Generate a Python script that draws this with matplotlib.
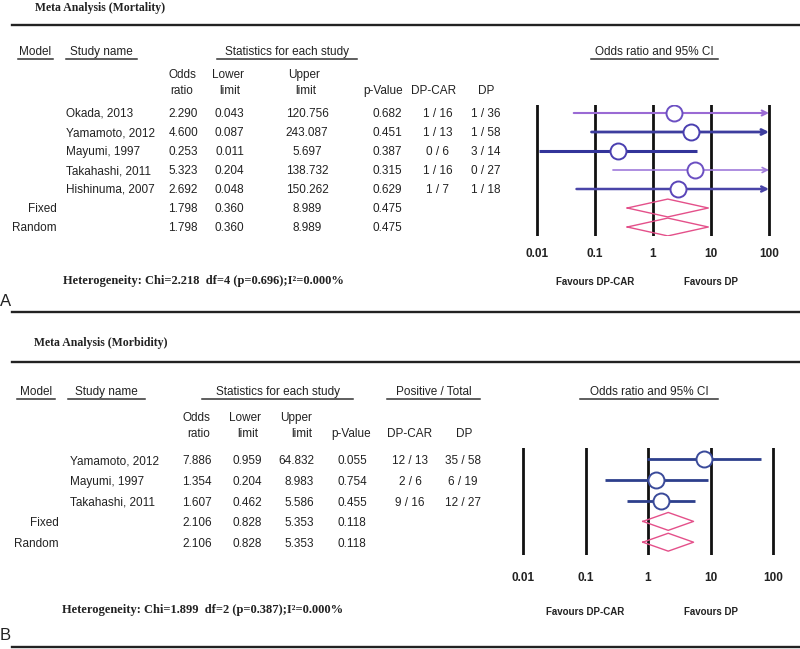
import matplotlib
matplotlib.use("Agg")
import matplotlib.pyplot as plt
from matplotlib.transforms import blended_transform_factory

# ---- data: panel A (mortality)
studies_a = ["Okada, 2013", "Yamamoto, 2012", "Mayumi, 1997", "Takahashi, 2011", "Hishinuma, 2007"]
or_a = [2.290, 4.600, 0.253, 5.323, 2.692]
lo_a = [0.043, 0.087, 0.011, 0.204, 0.048]
hi_a = [120.756, 243.087, 5.697, 138.732, 150.262]
p_a = [0.682, 0.451, 0.387, 0.315, 0.629]
dpcar_a = ["1 / 16", "1 / 13", "0 / 6", "1 / 16", "1 / 7"]
dp_a = ["1 / 36", "1 / 58", "3 / 14", "0 / 27", "1 / 18"]
models = ["Fixed", "Random"]
pooled_or_a = [1.798, 1.798]
pooled_lo_a = [0.360, 0.360]
pooled_hi_a = [8.989, 8.989]
pooled_p_a = [0.475, 0.475]
het_a = "Heterogeneity: Chi=2.218  df=4 (p=0.696);I\u00b2=0.000%"

# ---- data: panel B (morbidity)
studies_b = ["Yamamoto, 2012", "Mayumi, 1997", "Takahashi, 2011"]
or_b = [7.886, 1.354, 1.607]
lo_b = [0.959, 0.204, 0.462]
hi_b = [64.832, 8.983, 5.586]
p_b = [0.055, 0.754, 0.455]
dpcar_b = ["12 / 13", "2 / 6", "9 / 16"]
dp_b = ["35 / 58", "6 / 19", "12 / 27"]
pooled_or_b = [2.106, 2.106]
pooled_lo_b = [0.828, 0.828]
pooled_hi_b = [5.353, 5.353]
pooled_p_b = [0.118, 0.118]
het_b = "Heterogeneity: Chi=1.899  df=2 (p=0.387);I\u00b2=0.000%"

ticks = [0.01, 0.1, 1, 10, 100]
tick_labels = ["0.01", "0.1", "1", "10", "100"]

W, H = 800, 649
SANS = "Liberation Sans"
SERIF = "Liberation Serif"
TXT = "#222222"
PINK = "#e4508a"

fig = plt.figure(figsize=(8, 6.49), dpi=100)
over = fig.add_axes([0, 0, 1, 1])
over.set_xlim(0, W)
over.set_ylim(H, 0)
over.axis("off")


def t(x, y, s, ha="left", size=8.5, bold=False, serif=False, **kw):
    over.text(x, y, s, ha=ha, va="center", fontsize=size, color=TXT,
              fontweight="bold" if bold else "normal",
              family=SERIF if serif else SANS, **kw)


def header(x0, x1, y, s):
    t((x0 + x1) / 2, y, s, ha="center", size=8.5)
    over.plot([x0, x1], [y + 7, y + 7], color="#333333", lw=1.1)


def rule(y):
    over.plot([12, W], [y, y], color="#222222", lw=1.7)


def forest(px0, px1, py0, py1, row_y0, row_step, pad=0.1):
    # px0/px1: pixel x of 0.01 and 100 lines; py0/py1: top/bottom of the lines
    dec = (px1 - px0) / 4.0
    left = px0 - pad * dec
    right = px1 + pad * dec
    ax = fig.add_axes([left / W, 1 - py1 / H, (right - left) / W, (py1 - py0) / H])
    ax.set_xscale("log")
    ax.set_xlim(10 ** (-2 - pad), 10 ** (2 + pad))
    ax.set_ylim((py1 - row_y0) / row_step, (py0 - row_y0) / row_step)
    ax.patch.set_visible(False)
    for sp in ax.spines.values():
        sp.set_visible(False)
    ax.set_yticks([])
    ax.minorticks_off()
    ax.set_xticks(ticks)
    ax.set_xticklabels(tick_labels, fontsize=8.5, fontweight="bold", family=SANS, color=TXT)
    ax.tick_params(axis="x", length=0)
    for x in ticks:
        ax.axvline(x, color="#111111", lw=2.0, zorder=1)
    return ax


def draw_studies(ax, est, lo, hi, line_cols, edge_cols, lws):
    for i in range(len(est)):
        c = line_cols[i]
        if hi[i] > 100:
            ax.annotate("", xy=(100, i), xytext=(lo[i], i), zorder=2,
                        arrowprops=dict(arrowstyle="->", color=c, lw=lws[i],
                                        shrinkA=0, shrinkB=0, mutation_scale=9))
        else:
            ax.plot([lo[i], hi[i]], [i, i], color=c, lw=lws[i], zorder=2,
                    solid_capstyle="butt")
        ax.plot(est[i], i, "o", ms=11.5, mfc="white", mec=edge_cols[i], mew=1.4, zorder=3)


def draw_pooled(ax, start, est, lo, hi, h):
    for k in range(len(est)):
        y = start + k
        ax.plot([lo[k], est[k], hi[k], est[k], lo[k]], [y, y - h, y, y + h, y],
                color=PINK, lw=1.0, zorder=4)


# ================= Panel A =================
t(35, 8, "Meta Analysis (Mortality)", size=8.5, bold=True, serif=True)
rule(25)
header(18, 53, 52, "Model")
header(66, 137, 52, "Study name")
header(217, 357, 52, "Statistics for each study")
header(591, 718, 52, "Odds ratio and 95% CI")

t(182, 75, "Odds", ha="center"); t(182, 91, "ratio", ha="center")
t(228, 75, "Lower", ha="center"); t(230, 91, "limit", ha="center")
t(304, 75, "Upper", ha="center"); t(306, 91, "limit", ha="center")
t(383, 91, "p-Value", ha="center")
t(434, 91, "DP-CAR", ha="center")
t(486, 91, "DP", ha="center")

ya0, ya_step = 114, 19
for i, name in enumerate(studies_a):
    y = ya0 + i * ya_step
    t(66, y, name)
    t(198, y, f"{or_a[i]:.3f}", ha="right")
    t(244, y, f"{lo_a[i]:.3f}", ha="right")
    t(307, y, f"{hi_a[i]:.3f}", ha="center")
    t(387, y, f"{p_a[i]:.3f}", ha="center")
    t(438, y, dpcar_a[i], ha="center")
    t(486, y, dp_a[i], ha="center")
for k, m in enumerate(models):
    y = ya0 + (len(studies_a) + k) * ya_step
    t(57, y, m, ha="right")
    t(198, y, f"{pooled_or_a[k]:.3f}", ha="right")
    t(244, y, f"{pooled_lo_a[k]:.3f}", ha="right")
    t(307, y, f"{pooled_hi_a[k]:.3f}", ha="center")
    t(387, y, f"{pooled_p_a[k]:.3f}", ha="center")

t(203, 281, het_a, ha="center", size=9, bold=True, serif=True)
t(0, 302, "A", size=12)
rule(312)

ax_a = forest(537, 769, 105, 236, ya0 - 1, ya_step)
ax_a.tick_params(axis="x", pad=8.5)
draw_studies(ax_a, or_a, lo_a, hi_a,
             ["#9a6ad4", "#3d3d9e", "#33349a", "#a07ada", "#4a45a8"],
             ["#6b4fc2", "#4a3fb0", "#4a3fb0", "#6b4fc2", "#5a45b8"],
             [1.5, 2.0, 2.2, 1.2, 1.8])
draw_pooled(ax_a, len(studies_a), pooled_or_a, pooled_lo_a, pooled_hi_a, 0.47)
tr_a = blended_transform_factory(ax_a.transData, over.transData)
ax_a.text(0.1, 282, "Favours DP-CAR", transform=tr_a, ha="center", va="center",
          fontsize=7, fontweight="bold", family=SANS, color=TXT)
ax_a.text(10, 282, "Favours DP", transform=tr_a, ha="center", va="center",
          fontsize=7, fontweight="bold", family=SANS, color=TXT)

# ================= Panel B =================
t(34, 343, "Meta Analysis (Morbidity)", size=8.5, bold=True, serif=True)
rule(362)
header(17, 55, 392, "Model")
header(68, 145, 392, "Study name")
header(202, 353, 392, "Statistics for each study")
header(387, 480, 392, "Positive / Total")
header(580, 718, 392, "Odds ratio and 95% CI")

t(210, 418, "Odds", ha="right"); t(210, 434, "ratio", ha="right")
t(261, 418, "Lower", ha="right"); t(258, 434, "limit", ha="right")
t(312, 418, "Upper", ha="right"); t(312, 434, "limit", ha="right")
t(351, 434, "p-Value", ha="center")
t(410, 434, "DP-CAR", ha="center")
t(464, 434, "DP", ha="center")

yb0, yb_step = 461, 20.8
for i, name in enumerate(studies_b):
    y = yb0 + i * yb_step
    t(70, y, name)
    t(212, y, f"{or_b[i]:.3f}", ha="right")
    t(262, y, f"{lo_b[i]:.3f}", ha="right")
    t(314, y, f"{hi_b[i]:.3f}", ha="right")
    t(352, y, f"{p_b[i]:.3f}", ha="center")
    t(410, y, dpcar_b[i], ha="center")
    t(463, y, dp_b[i], ha="center")
for k, m in enumerate(models):
    y = yb0 + (len(studies_b) + k) * yb_step
    t(59, y, m, ha="right")
    t(212, y, f"{pooled_or_b[k]:.3f}", ha="right")
    t(262, y, f"{pooled_lo_b[k]:.3f}", ha="right")
    t(314, y, f"{pooled_hi_b[k]:.3f}", ha="right")
    t(352, y, f"{pooled_p_b[k]:.3f}", ha="center")

t(203, 610, het_b, ha="center", size=9, bold=True, serif=True)
t(0, 636, "B", size=12)
rule(647)

ax_b = forest(523, 773, 448, 555, yb0 - 2, yb_step)
ax_b.tick_params(axis="x", pad=12)
n_b = len(studies_b)
draw_studies(ax_b, or_b, lo_b, hi_b, ["#2d3f8c"] * n_b, ["#3a4a9a"] * n_b, [2.0] * n_b)
draw_pooled(ax_b, n_b, pooled_or_b, pooled_lo_b, pooled_hi_b, 0.43)
tr_b = blended_transform_factory(ax_b.transData, over.transData)
ax_b.text(0.1, 612, "Favours DP-CAR", transform=tr_b, ha="center", va="center",
          fontsize=7, fontweight="bold", family=SANS, color=TXT)
ax_b.text(10, 612, "Favours DP", transform=tr_b, ha="center", va="center",
          fontsize=7, fontweight="bold", family=SANS, color=TXT)

fig.savefig("out.png", dpi=100)
